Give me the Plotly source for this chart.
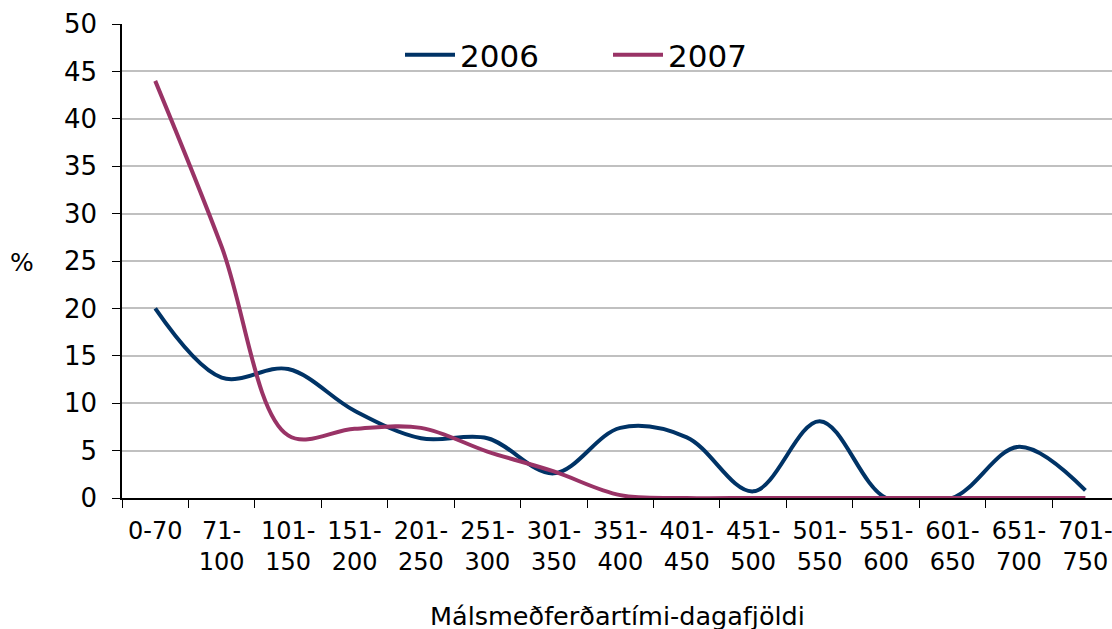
import plotly.graph_objects as go

categories = ["0-70", "71-<br>100", "101-<br>150", "151-<br>200", "201-<br>250",
              "251-<br>300", "301-<br>350", "351-<br>400", "401-<br>450", "451-<br>500",
              "501-<br>550", "551-<br>600", "601-<br>650", "651-<br>700", "701-<br>750"]
values_2006 = [20, 12.7, 13.6, 9.2, 6.3, 6.3, 2.6, 7.4, 6.4, 0.7, 8.1, 0, 0, 5.4, 0.8]
values_2007 = [44, 26.5, 6.6, 7.3, 7.4, 4.9, 2.8, 0.3, 0, 0, 0, 0, 0, 0, 0]
y_ticks = [0, 5, 10, 15, 20, 25, 30, 35, 40, 45, 50]

FONT = "DejaVu Sans"
W, H = 1112, 629
L, T, PW, PH = 122, 24, 990, 474


def px_x(x):  # page pixel -> paper
    return (x - L) / PW


def px_y(y):
    return (T + PH - y) / PH


fig = go.Figure()
fig.add_trace(go.Scatter(x=categories, y=values_2006, name="2006", mode="lines",
                         line=dict(color="#003366", width=4, shape="spline", smoothing=1)))
fig.add_trace(go.Scatter(x=categories, y=values_2007, name="2007", mode="lines",
                         line=dict(color="#993366", width=4, shape="spline", smoothing=1)))

fig.update_layout(
    width=W, height=H,
    margin=dict(l=L, r=W - L - PW, t=T, b=H - T - PH, autoexpand=False),
    paper_bgcolor="white", plot_bgcolor="white",
    font=dict(family=FONT, color="black", size=24),
    showlegend=True,
    legend=dict(orientation="h", x=px_x(400), y=px_y(28), xanchor="left", yanchor="top",
                bgcolor="rgba(0,0,0,0)", font=dict(size=31, family=FONT),
                entrywidth=143, entrywidthmode="pixels", itemwidth=50),
    xaxis=dict(type="category", range=[-0.5, 14.4], showline=True, linecolor="black",
               linewidth=1.5, ticks="outside", tickson="boundaries", ticklen=8,
               tickcolor="black", showgrid=False, tickangle=0, automargin=False,
               tickfont=dict(size=24, family=FONT), ticklabelstandoff=10),
    yaxis=dict(range=[0, 50], tickvals=y_ticks, showline=True, linecolor="black",
               linewidth=1.5, ticks="outside", ticklen=8, tickcolor="black",
               showgrid=True, gridcolor="#c0c0c0", gridwidth=1.5, automargin=False,
               tickfont=dict(size=26, family=FONT), ticklabelstandoff=10, zeroline=False),
    shapes=[
        dict(type="rect", xref="paper", yref="paper", x0=px_x(368), x1=px_x(786),
             y0=px_y(74), y1=px_y(20), fillcolor="white", line=dict(width=0), layer="between"),
    ],
    annotations=[
        dict(text="%", xref="paper", yref="paper", x=px_x(22), y=px_y(262),
             xanchor="center", yanchor="middle", showarrow=False, font=dict(size=25, family=FONT)),
        dict(text="Málsmeðferðartími-dagafjöldi", xref="paper", yref="paper",
             x=0.5, y=px_y(599), xanchor="center", yanchor="top", showarrow=False,
             font=dict(size=25.5, family=FONT)),
    ],
)
fig.write_html("out.html", config={"displayModeBar": False},
               post_script="document.body.style.margin='0';document.body.style.overflow='hidden';")
